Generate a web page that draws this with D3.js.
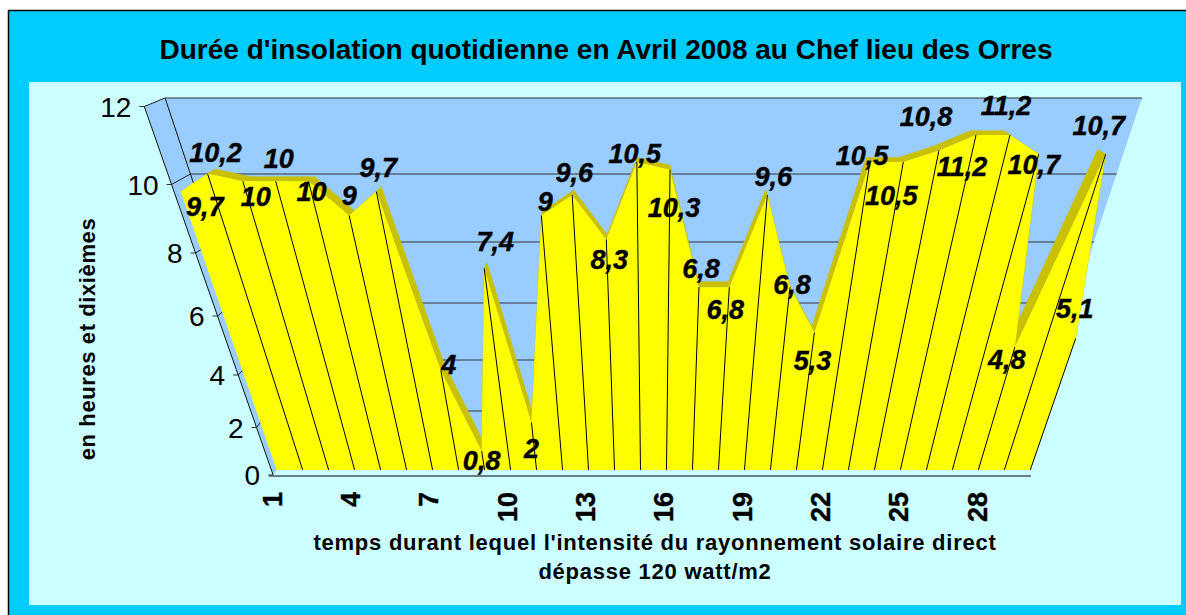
<!DOCTYPE html>
<html>
<head>
<meta charset="utf-8">
<script src="https://cdnjs.cloudflare.com/ajax/libs/d3/7.8.5/d3.min.js"></script>
<style>
	html, body { margin: 0; padding: 0; background: #fff; }
	svg { display: block; }
	text { font-family: "Liberation Sans", Arial, sans-serif; fill: #000; }
</style>
</head>
<body>
<div id="chart"></div>
<script>
// VALUES
var days = d3.range(1, 31);
var hours = [9.7, 10.2, 10, 10, 10, 9, 9.7, 4, 0.8, 7.4, 2, 9, 9.6, 8.3, 10.5, 10.3, 6.8, 6.8, 9.6, 6.8, 5.3, 10.5, 10.5, 10.8, 11.2, 11.2, 10.7, 4.8, 10.7, 5.1];
var yTicks = [0, 2, 4, 6, 8, 10, 12];
var xTicks = [1, 4, 7, 10, 13, 16, 19, 22, 25, 28];
var title = "Durée d'insolation quotidienne en Avril 2008 au Chef lieu des Orres";
var yTitle = "en heures et dixièmes";
var xTitle = ["temps durant lequel l'intensité du rayonnement solaire direct", "dépasse 120 watt/m2"];

// label offset from its point, one per day (Excel put them by hand)
var labelNudge = [[24,14],[8,-22],[13,15],[3,-23],[3,10],[0,-21],[2,-25],[8,-7],[0,9],[11,-27],[0,25],[4,-15],[2,-23],[3,20],[-2,-9],[4,37],[2,-19],[-4,22],[6,-19],[2,-3],[-2,27],[-8,-7],[-12,33],[-13,-34],[-14,31],[-4,-30],[-5,10],[-8,12],[-7,-29],[-1,-30]];

var width = 1186, height = 615;

var svg = d3.select('#chart')
	.append('svg')
		.attr('width', width)
		.attr('height', height);

// PERSPECTIVE: rows of the ticks on the front plane and on the back wall
var yFront = d3.scaleLinear().domain(yTicks).range([475, 427.5, 375, 316, 253, 184.5, 106.5]);
var yBack = d3.scaleLinear().domain(yTicks).range([458, 411, 360, 303, 242, 174, 98]);
var xBase = d3.scaleLinear().domain([1, 30]).range([277, 1030]);
var xTickLabel = d3.scaleLinear().domain([1, 28]).range([281.5, 986.5]);
var centerX = 653.5, vanishY = 1563, baseY = 471;
var depthScale = d3.scaleLinear().domain([0, 1]).range([1.014, 0.967]);

var depth = { axis: 0, series: 0.3, strip: 0.75, wall: 1 };

function py(v, z){
	return yFront(v) + (yBack(v) - yFront(v)) * z;
}
function px(c, v, z){
	return centerX + (xBase(c) - centerX) * (vanishY - py(v, z)) / (vanishY - baseY) * depthScale(z);
}
function pt(c, v, z){
	return [px(c, v, z), py(v, z)];
}

var poly = d3.line();

// BACKGROUND
svg.append('rect').attr('x', 8.5).attr('y', 10.5).attr('width', width).attr('height', height)
	.style('fill', '#00CCFF').style('stroke', '#000').style('stroke-width', 1.5);
svg.append('rect').attr('x', 29).attr('y', 82).attr('width', 1152).attr('height', 523)
	.style('fill', '#CCFFFF');

// WALLS
svg.append('path')
	.attr('d', poly([pt(1, 12, depth.wall), pt(30, 12, depth.wall), pt(30, 0, depth.wall), pt(1, 0, depth.wall)]) + 'Z')
	.style('fill', '#99CCFF');
svg.append('path')
	.attr('d', poly([pt(1, 12, depth.axis), pt(1, 12, depth.wall), pt(1, 0, depth.wall), pt(1, 0, depth.axis)]) + 'Z')
	.style('fill', '#99CCFF');

// gridlines, back wall then the bit on the side wall
var grid = svg.append('g').attr('class', 'grid');
yTicks.filter(d => d > 0).forEach(function(t){
	grid.append('path')
		.attr('d', poly([pt(1, t, depth.wall), pt(30, t, depth.wall)]))
		.style('stroke', '#333').style('stroke-width', 1).style('fill', 'none');
	grid.append('path')
		.attr('d', poly([pt(1, t, depth.axis), pt(1, t, depth.wall)]))
		.style('stroke', '#222').style('stroke-width', 1).style('fill', 'none');
});
svg.append('path')
	.attr('d', poly([pt(1, 12, depth.wall), pt(1, 0, depth.wall)]))
	.style('stroke', '#111').style('stroke-width', 1).style('fill', 'none');

// TOP FACE OF THE AREA
svg.append('g').selectAll('path')
	.data(d3.pairs(days))
	.enter()
	.append('path')
		.attr('d', function(d){
			var a = d[0], b = d[1], va = hours[a - 1], vb = hours[b - 1];
			return poly([pt(a, va, depth.series), pt(b, vb, depth.series), pt(b, vb, depth.strip), pt(a, va, depth.strip)]) + 'Z';
		})
		.style('fill', '#C8C000')
		.style('stroke', '#C8C000')
		.style('stroke-width', 0.5);

// FRONT FACE
var front = days.map((d, i) => pt(d, hours[i], depth.series));
front.push(pt(30, 0, depth.series));
front.push(pt(1, 0, depth.series));
svg.append('path')
	.attr('d', poly(front) + 'Z')
	.style('fill', '#FFFF00');

svg.append('g').selectAll('path')
	.data(days.slice(1))
	.enter()
	.append('path')
		.attr('d', d => poly([pt(d, 0, depth.series), pt(d, hours[d - 1], depth.series)]))
		.style('stroke', '#000')
		.style('stroke-width', 1)
		.style('fill', 'none');

// AXES
svg.append('path')
	.attr('d', poly([pt(1, 12, depth.axis), pt(1, 0, depth.axis)]))
	.style('stroke', '#111').style('stroke-width', 1).style('fill', 'none');
svg.append('path')
	.attr('d', poly([[px(1, 0, depth.axis) - 4, py(0, depth.axis) + 1], [px(30, 0, depth.axis) - 3, py(0, depth.axis) + 1]]))
	.style('stroke', '#668080').style('stroke-width', 2).style('fill', 'none');

var yAxis = svg.append('g').selectAll('g')
	.data(yTicks)
	.enter()
	.append('g')
		.attr('transform', d => `translate(${px(1, d, depth.axis)},${py(d, depth.axis)})`);
yAxis.append('line')
	.attr('x1', -5).attr('x2', 0)
	.style('stroke', '#333').style('stroke-width', 1);
yAxis.append('text')
	.text(d => d)
	.attr('x', -13)
	.attr('y', 10)
	.attr('text-anchor', 'end')
	.style('font-size', '28px');

svg.append('g').selectAll('text')
	.data(xTicks)
	.enter()
	.append('text')
		.text(d => d)
		.attr('text-anchor', 'end')
		.attr('transform', d => `translate(${xTickLabel(d)},492) rotate(-90)`)
		.style('font-size', '27px')
		.style('font-weight', 'bold')
		.style('stroke', '#000')
		.style('stroke-width', 0.4);

// DATA LABELS
svg.append('g').selectAll('text')
	.data(days)
	.enter()
	.append('text')
		.text((d, i) => String(hours[i]).replace('.', ','))
		.attr('x', (d, i) => px(d, hours[i], depth.series) + labelNudge[i][0])
		.attr('y', (d, i) => py(hours[i], depth.series) + labelNudge[i][1] + 10)
		.attr('text-anchor', 'middle')
		.style('font-size', '27px')
		.style('font-weight', 'bold')
		.style('font-style', 'italic')
		.style('stroke', '#000')
		.style('stroke-width', 0.4);

// TITLES
svg.append('text')
	.text(title)
	.attr('x', 606).attr('y', 59)
	.attr('text-anchor', 'middle')
	.style('font-size', '28px')
	.style('font-weight', 'bold');

svg.append('text')
	.text(yTitle)
	.attr('text-anchor', 'middle')
	.attr('transform', 'translate(95,339) rotate(-90)')
	.style('font-size', '22px')
	.style('font-weight', 'bold')
	.style('letter-spacing', '0.6px');

svg.append('g').selectAll('text')
	.data(xTitle)
	.enter()
	.append('text')
		.text(d => d)
		.attr('x', 655)
		.attr('y', (d, i) => 550 + i * 29)
		.attr('text-anchor', 'middle')
		.style('font-size', '22px')
		.style('font-weight', 'bold')
		.style('letter-spacing', '0.75px');
</script>
</body>
</html>
